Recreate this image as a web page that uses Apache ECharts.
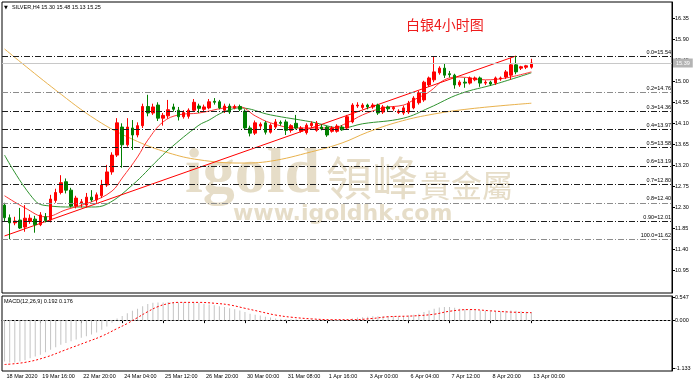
<!DOCTYPE html>
<html><head><meta charset="utf-8">
<script src="https://cdn.jsdelivr.net/npm/echarts@6/dist/echarts.min.js"></script>
<style>html,body{margin:0;padding:0;background:#fff}#c{width:700px;height:386px}</style>
</head><body><div id="c"></div>
<script>
// ---------- data ----------
const symbolTitle = 'SILVER,H4 15.30 15.48 15.13 15.25';
const macdTitle = 'MACD(12,26,9) 0.192 0.176';
const chartTitle = '白银4小时图';
const tickBars = [0, 7, 15, 23, 31, 39, 47, 55, 63, 71, 79, 87, 95, 103];
const tickLabels = ['18 Mar 2020','19 Mar 16:00','22 Mar 20:00','24 Mar 04:00','25 Mar 12:00','26 Mar 20:00',
  '30 Mar 00:00','31 Mar 08:00','1 Apr 16:00','3 Apr 00:00','6 Apr 04:00','7 Apr 12:00','8 Apr 20:00','13 Apr 00:00'];
const priceTicks = [16.35,15.90,15.45,15.00,14.55,14.10,13.65,13.20,12.75,12.30,11.85,11.40,10.95];
const macdTicks = [0.547, 0, -1.133];
const lastPrice = 15.39;

const opens = [12.35,12.08,11.97,12.03,11.88,12.00,12.05,11.93,12.10,12.03,
  12.45,12.62,12.85,12.67,12.33,12.38,12.35,12.52,12.46,12.55,
  12.78,13.06,13.42,14.02,13.64,14.00,13.85,14.05,14.46,14.32,
  14.49,14.21,14.26,14.45,14.38,14.24,14.25,14.38,14.47,14.40,
  14.43,14.57,14.56,14.38,14.47,14.43,14.46,14.36,14.00,13.89,
  14.04,14.11,13.91,14.02,14.12,14.13,13.95,14.10,13.93,13.90,
  14.05,13.95,14.02,14.02,13.93,13.93,14.02,14.00,14.13,14.47,
  14.44,14.49,14.45,14.49,14.34,14.45,14.41,14.33,14.32,14.34,
  14.43,14.54,14.60,14.92,15.03,15.18,15.28,15.16,15.13,14.92,
  14.98,14.96,15.03,15.07,14.96,14.98,14.96,15.05,15.09,15.13,
  15.35,15.28,15.30,15.30];
const highs = [12.40,12.15,12.10,12.29,12.35,12.15,12.12,12.20,12.18,12.57,
  12.70,12.99,12.92,12.72,12.55,12.48,12.61,12.67,12.62,12.89,
  13.21,13.48,14.21,14.10,14.21,14.17,14.12,14.52,14.71,14.52,
  14.55,14.32,14.60,14.52,14.45,14.38,14.42,14.62,14.52,14.50,
  14.62,14.64,14.60,14.52,14.52,14.50,14.50,14.40,14.05,14.16,
  14.12,14.15,14.10,14.19,14.16,14.18,14.08,14.28,14.04,14.10,
  14.14,14.15,14.08,14.05,14.04,14.08,14.06,14.28,14.53,14.55,
  14.53,14.52,14.53,14.52,14.49,14.48,14.47,14.40,14.48,14.58,
  14.68,14.79,15.01,15.10,15.52,15.32,15.39,15.22,15.16,15.02,
  15.07,15.10,15.10,15.10,15.02,15.01,15.10,15.10,15.24,15.50,
  15.54,15.33,15.35,15.48];
const lows = [12.00,11.62,11.92,11.84,11.78,11.95,11.76,11.90,11.98,11.98,
  12.40,12.58,12.60,12.30,12.28,12.30,12.30,12.42,12.40,12.50,
  12.74,13.00,13.38,13.15,13.60,13.53,13.80,14.00,14.25,14.28,
  14.15,14.05,14.20,14.35,14.16,14.20,14.20,14.34,14.32,14.36,
  14.40,14.50,14.40,14.32,14.30,14.40,14.36,13.96,13.82,13.85,
  13.98,13.86,13.88,13.98,14.05,13.85,13.90,13.97,13.90,13.86,
  14.00,13.92,13.95,13.81,13.90,13.90,13.94,13.96,14.10,14.43,
  14.40,14.40,14.41,14.28,14.30,14.36,14.37,14.30,14.28,14.30,
  14.40,14.50,14.56,14.88,14.98,15.14,15.07,15.08,14.84,14.88,
  14.86,14.93,15.00,14.88,14.92,14.90,14.92,15.01,15.05,15.03,
  15.15,15.24,15.26,15.27];
const closes = [12.08,11.97,12.01,11.86,12.07,12.07,11.93,12.14,12.02,12.48,
  12.62,12.83,12.67,12.33,12.50,12.42,12.52,12.46,12.57,12.78,
  13.06,13.42,14.11,13.64,14.02,13.85,14.05,14.46,14.32,14.45,
  14.21,14.27,14.39,14.40,14.24,14.33,14.38,14.55,14.42,14.45,
  14.56,14.55,14.43,14.47,14.34,14.46,14.40,14.00,13.89,14.11,
  14.08,13.91,14.06,14.13,14.10,13.95,14.05,14.00,14.00,14.06,
  14.10,14.10,13.98,13.85,14.00,14.04,13.96,14.24,14.49,14.49,
  14.49,14.45,14.49,14.32,14.45,14.41,14.44,14.36,14.43,14.53,
  14.64,14.75,14.98,15.07,15.20,15.28,15.13,15.14,14.92,14.98,
  14.96,15.07,15.07,14.96,14.98,14.94,15.07,15.07,15.20,15.35,
  15.20,15.31,15.33,15.39];

const maFast = [[0,12.55],[4,12.29],[8,12.10],[12,12.25],[17,12.42],[21,12.65],[23,12.93],[26,13.38],
  [28,13.74],[31,14.13],[34,14.28],[38,14.32],[43,14.43],[46,14.45],[49,14.26],[52,14.11],[57,14.00],
  [64,14.00],[67,14.11],[70,14.28],[74,14.43],[78,14.49],[80,14.60],[83,14.77],[86,15.03],[89,15.09],
  [94,15.03],[98,15.07],[103,15.20]];
const maMid = [[0,13.42],[6,12.44],[9,12.33],[13,12.31],[17,12.31],[20,12.37],[25,12.78],[30,13.32],
  [32,13.53],[38,14.06],[40,14.17],[42,14.30],[44,14.39],[46,14.43],[52,14.28],[60,14.13],[66,14.00],
  [70,14.09],[78,14.21],[83,14.43],[89,14.73],[96,14.94],[103,15.18]];
const maSlow = [[0,15.69],[10,14.81],[18,14.17],[25,13.76],[32,13.47],[38,13.32],[46,13.25],[52,13.29],
  [60,13.49],[66,13.68],[71,13.91],[77,14.13],[83,14.28],[91,14.41],[103,14.53]];
const trendLine = [[0,11.69],[100,15.54]];

const fibLevels = ['0.0','0.2','0.3','0.4','0.5','0.6','0.7','0.8','0.90','100.0'];
const fibPrices = [15.54,14.76,14.36,13.97,13.58,13.19,12.80,12.40,12.01,11.62];

const macdHist = [-0.98,-1.00,-1.00,-0.98,-0.95,-0.90,-0.86,-0.82,-0.76,-0.70,
  -0.64,-0.58,-0.54,-0.50,-0.46,-0.42,-0.38,-0.34,-0.29,-0.23,
  -0.15,-0.06,0.04,0.10,0.16,0.22,0.27,0.33,0.38,0.41,
  0.42,0.42,0.43,0.43,0.42,0.42,0.42,0.42,0.41,0.39,
  0.37,0.35,0.33,0.31,0.28,0.26,0.23,0.19,0.15,0.13,
  0.11,0.08,0.06,0.04,0.03,0.02,0.02,0.02,0.01,0.01,
  0.02,0.02,0.01,-0.01,-0.02,-0.02,-0.02,0.00,0.04,0.06,
  0.07,0.08,0.09,0.09,0.09,0.09,0.09,0.09,0.10,0.11,
  0.13,0.15,0.19,0.23,0.27,0.30,0.31,0.31,0.29,0.27,
  0.26,0.25,0.24,0.23,0.22,0.21,0.21,0.21,0.22,0.23,
  0.22,0.21,0.20,0.192];
const macdSignal = [[0,-1.05],[4,-1.00],[8,-0.88],[12,-0.70],[16,-0.52],[19,-0.38],[22,-0.20],[24,-0.08],
  [26,0.06],[28,0.20],[30,0.32],[32,0.39],[34,0.42],[38,0.42],[41,0.40],[44,0.36],[47,0.28],[50,0.20],
  [53,0.12],[56,0.07],[60,0.03],[64,0.01],[68,0.01],[72,0.04],[75,0.08],[80,0.10],[84,0.14],[87,0.21],
  [91,0.25],[95,0.22],[99,0.19],[103,0.176]];

// ---------- layout / style ----------
const SLOTS = 131;
const FONT = 'Liberation Sans';
const SMALL = 5.5;
const grayFib = ['0.2','0.8','100.0'];
const categories = Array.from({length: SLOTS}, (_, i) => String(i));
const labelFor = i => { const k = tickBars.indexOf(i); return k >= 0 ? tickLabels[k] : ''; };

const candleData = opens.map((o, i) => [o, closes[i], lows[i], highs[i]]);

const fibLines = fibPrices.map((p, i) => ({
  yAxis: p,
  lineStyle: {color: grayFib.includes(fibLevels[i]) ? '#8c8c8c' : '#1e1e1e', width: 1, type: [6, 2, 1, 2]},
  label: {show: true, position: 'insideEndTop', distance: 1, formatter: fibLevels[i] + '=' + p.toFixed(2),
          fontSize: SMALL, fontFamily: FONT, color: '#000'}
}));

const chart = echarts.init(document.getElementById('c'), null, {renderer: 'canvas'});
chart.setOption({
  animation: false,
  backgroundColor: '#fff',
  grid: [
    {left: 2, top: 2, width: 670, height: 291, show: true, borderColor: '#000', borderWidth: 1, backgroundColor: 'transparent'},
    {left: 2, top: 296, width: 670, height: 75, show: true, borderColor: '#000', borderWidth: 1, backgroundColor: 'transparent'}
  ],
  xAxis: [
    {type: 'category', gridIndex: 0, data: categories, boundaryGap: true,
     axisLine: {show: false}, axisTick: {show: false}, axisLabel: {show: false}, splitLine: {show: false}},
    {type: 'category', gridIndex: 1, data: categories, boundaryGap: true,
     axisLine: {show: true, lineStyle: {color: '#000'}},
     axisTick: {show: true, alignWithLabel: true, length: 3, interval: (i) => tickBars.includes(i), lineStyle: {color: '#000'}},
     axisLabel: {show: true, interval: (i) => tickBars.includes(i), formatter: (v, i) => labelFor(i),
                 align: 'left', padding: [0, 0, 0, 2], margin: 2, fontSize: SMALL, fontFamily: FONT, color: '#000'},
     splitLine: {show: false}}
  ],
  yAxis: [
    {type: 'value', gridIndex: 0, position: 'right', min: 10.47, max: 16.695, scale: true,
     axisLine: {show: true, lineStyle: {color: '#000'}},
     axisTick: {show: true, length: 3, customValues: priceTicks, lineStyle: {color: '#000'}},
     axisLabel: {show: true, customValues: priceTicks, formatter: v => v.toFixed(2), margin: 3,
                 fontSize: SMALL, fontFamily: FONT, color: '#000'},
     splitLine: {show: false}},
    {type: 'value', gridIndex: 1, position: 'right', min: -1.204, max: 0.571, scale: true,
     axisLine: {show: true, lineStyle: {color: '#000'}},
     axisTick: {show: true, length: 3, customValues: macdTicks, lineStyle: {color: '#000'}},
     axisLabel: {show: true, customValues: macdTicks, formatter: v => v.toFixed(3), margin: 3,
                 fontSize: SMALL, fontFamily: FONT, color: '#000'},
     splitLine: {show: false}}
  ],
  series: [
    {type: 'candlestick', xAxisIndex: 0, yAxisIndex: 0, data: candleData, barWidth: 3,
     itemStyle: {color: '#ff0000', color0: '#008000', borderColor: '#ff0000', borderColor0: '#008000', borderWidth: 1},
     markLine: {silent: true, symbol: 'none', animation: false,
       data: fibLines.concat([{yAxis: lastPrice, lineStyle: {color: '#c8c8c8', width: 1, type: 'solid'},
         label: {show: true, position: 'end', distance: 1, formatter: lastPrice.toFixed(2), fontSize: SMALL, fontFamily: FONT,
                 color: '#fff', backgroundColor: '#b4b4b4', padding: [2, 3, 1, 3]}}])}},
    {type: 'line', xAxisIndex: 0, yAxisIndex: 0, data: maSlow, smooth: 0.4, symbol: 'none',
     lineStyle: {color: '#e9b24d', width: 1}, z: 1},
    {type: 'line', xAxisIndex: 0, yAxisIndex: 0, data: maMid, smooth: 0.4, symbol: 'none',
     lineStyle: {color: '#2f932f', width: 1}, z: 1},
    {type: 'line', xAxisIndex: 0, yAxisIndex: 0, data: maFast, smooth: 0.4, symbol: 'none',
     lineStyle: {color: '#ff3333', width: 1}, z: 1},
    {type: 'line', xAxisIndex: 0, yAxisIndex: 0, data: trendLine, symbol: 'none',
     lineStyle: {color: '#ff0000', width: 1}, z: 1},
    {type: 'bar', xAxisIndex: 1, yAxisIndex: 1, data: macdHist, barWidth: 1, itemStyle: {color: '#c4c4c4'},
     markLine: {silent: true, symbol: 'none', label: {show: false},
       data: [{yAxis: 0, lineStyle: {color: '#a0a0a0', width: 1, type: [2, 2]}}]}},
    {type: 'line', xAxisIndex: 1, yAxisIndex: 1, data: macdSignal, smooth: 0.4, symbol: 'none',
     lineStyle: {color: '#ff0000', width: 1, type: [2, 2]}}
  ],
  graphic: [
    {type: 'text', left: 185, top: 143, z: -10, silent: true,
     style: {text: 'igold', font: 'bold 64px "Liberation Serif"', fill: '#e6ddc8'}},
    {type: 'text', left: 326, top: 155, z: -10, silent: true,
     style: {text: '領峰', font: '46px "Noto Sans CJK TC"', fill: '#e6ddc8'}},
    {type: 'text', left: 420, top: 170, z: -10, silent: true,
     style: {text: '貴金屬', font: '31px "Noto Sans CJK TC"', fill: '#e6ddc8'}},
    {type: 'text', left: 233, top: 203, z: -10, silent: true,
     style: {text: 'www.igoldhk.com', font: 'bold 22px "DejaVu Sans"', fill: '#e6ddc8'}},
    {type: 'text', left: 406, top: 18, z: 10,
     style: {text: chartTitle, font: '14px "Noto Sans CJK SC"', fill: '#ee1c1c'}},
    {type: 'text', left: 4, top: 5, z: 10,
     style: {text: '▼', font: '5px "DejaVu Sans"', fill: '#000'}},
    {type: 'text', left: 12, top: 4, z: 10,
     style: {text: symbolTitle, font: SMALL + 'px "' + FONT + '"', fill: '#000'}},
    {type: 'text', left: 4, top: 298, z: 10,
     style: {text: macdTitle, font: SMALL + 'px "' + FONT + '"', fill: '#000'}}
  ]
});
</script></body></html>
